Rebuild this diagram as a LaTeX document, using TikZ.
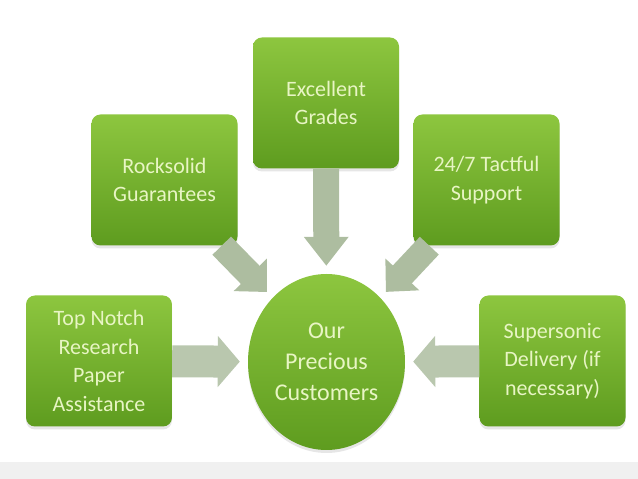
\documentclass[tikz,border=0pt]{standalone}
\usepackage{fontspec}
\setmainfont{Carlito}
\usetikzlibrary{shapes.geometric, arrows.meta, shadows}
\definecolor{boxtop}{HTML}{8DC63F}
\definecolor{boxbot}{HTML}{5E9C1F}
\definecolor{boxtext}{HTML}{E8F5C4}
\definecolor{arrowgray}{HTML}{ADBDA0}
\definecolor{band}{HTML}{F0F0F0}
\tikzstyle{box} = [rectangle, rounded corners=9pt, minimum width=146pt, minimum height=131pt, align=center, top color=boxtop, bottom color=boxbot, text=boxtext, font=\fontsize{22}{28.5}\selectfont, drop shadow={opacity=0.2, shadow xshift=0pt, shadow yshift=-3pt}]
\tikzstyle{hub} = [ellipse, minimum width=157pt, minimum height=176pt, inner sep=0pt, align=center, top color=boxtop, bottom color=boxbot, text=boxtext, font=\fontsize{24}{31}\selectfont, drop shadow={opacity=0.2, shadow xshift=0pt, shadow yshift=-3pt}]
\tikzstyle{fatarrow} = [draw=arrowgray, line width=26pt, -{Triangle[length=24pt, width=45pt]}, shorten >=8pt]
\tikzstyle{widearrow} = [draw=arrowgray!85!white, line width=32pt, -{Triangle[length=22pt, width=50pt]}, shorten >=8pt]

\begin{document}
\begin{tikzpicture}[x=1pt, y=1pt]
\useasboundingbox (0,0) rectangle (638,479);
\fill[band] (0,0) rectangle (638,17);
% hub and the five boxes round it
\node (cust) [hub] at (326.5,117) {Our\\Precious\\Customers};
\node (grades) [box] at (326,376) {Excellent\\Grades};
\node (rock) [box] at (164.5,299) {Rocksolid\\Guarantees};
\node (tact) [box] at (486.5,299) {24/7 Tactful\\Support};
\node (notch) [box] at (99,118) {Top Notch\\Research\\Paper\\Assistance};
\node (sonic) [box] at (552.5,118) {Supersonic\\Delivery (if\\necessary)};
% block arrows into the hub
\draw [fatarrow, -{Triangle[length=29pt, width=43pt]}] (grades) -- (cust);
\draw [fatarrow] ([xshift=-16pt]rock.south east) -- (cust.130);
\draw [fatarrow] ([xshift=16pt]tact.south west) -- (cust.50);
\draw [widearrow] (notch) -- (cust);
\draw [widearrow] (sonic) -- (cust);
\end{tikzpicture}
\end{document}
